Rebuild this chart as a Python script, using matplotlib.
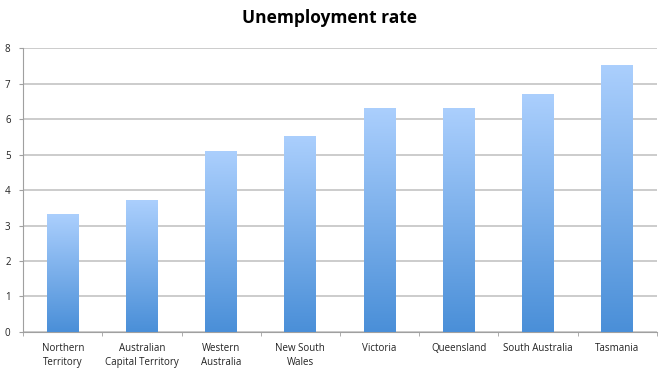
import numpy as np
import matplotlib.pyplot as plt
from matplotlib.colors import LinearSegmentedColormap

regions = ["Northern\nTerritory", "Australian\nCapital Territory", "Western\nAustralia",
           "New South\nWales", "Victoria", "Queensland", "South Australia", "Tasmania"]
rates = [3.3, 3.7, 5.1, 5.5, 6.3, 6.3, 6.7, 7.5]

plt.rcParams['font.family'] = ['Open Sans', 'DejaVu Sans']

fig = plt.figure(figsize=(6.6, 3.73), dpi=100)
ax = fig.add_axes([0.035, 0.110, 0.96, 0.761])

x = np.arange(len(regions))
bars = ax.bar(x, rates, width=0.4, color='none', zorder=3)

# vertical gradient inside each bar, light on top, darker at the base
cmap = LinearSegmentedColormap.from_list('blu', ['#4a8fd8', '#abcffd'])
grad = np.linspace(0, 1, 256).reshape(-1, 1)
for b in bars:
    x0, w, h = b.get_x(), b.get_width(), b.get_height()
    ax.imshow(grad, cmap=cmap, origin='lower', aspect='auto',
              extent=[x0, x0 + w, 0, h], zorder=3)

ax.set_xlim(-0.5, len(regions) - 0.5)
ax.set_ylim(0, 8)
ax.set_yticks(range(9))
ax.yaxis.grid(True, color='#c4c4c4', linewidth=1.2, zorder=0)
ax.set_axisbelow(True)

ax.set_xticks(x)
ax.set_xticklabels(regions, fontsize=7, color='#222222', linespacing=1.4)
ax.set_xticks(np.arange(-0.5, len(regions)), minor=True)
ax.tick_params(axis='x', which='major', length=0, pad=8)
ax.tick_params(axis='x', which='minor', length=3, color='#a0a0a0')
ax.tick_params(axis='y', length=3, color='#a0a0a0', labelsize=7, labelcolor='#222222', pad=6)

for s in ['top', 'right']:
    ax.spines[s].set_visible(False)
for s in ['left', 'bottom']:
    ax.spines[s].set_color('#a0a0a0')

fig.suptitle('Unemployment rate', x=0.5, y=0.975, fontsize=12.5, fontweight='bold')

fig.savefig('out.png', dpi=100)
